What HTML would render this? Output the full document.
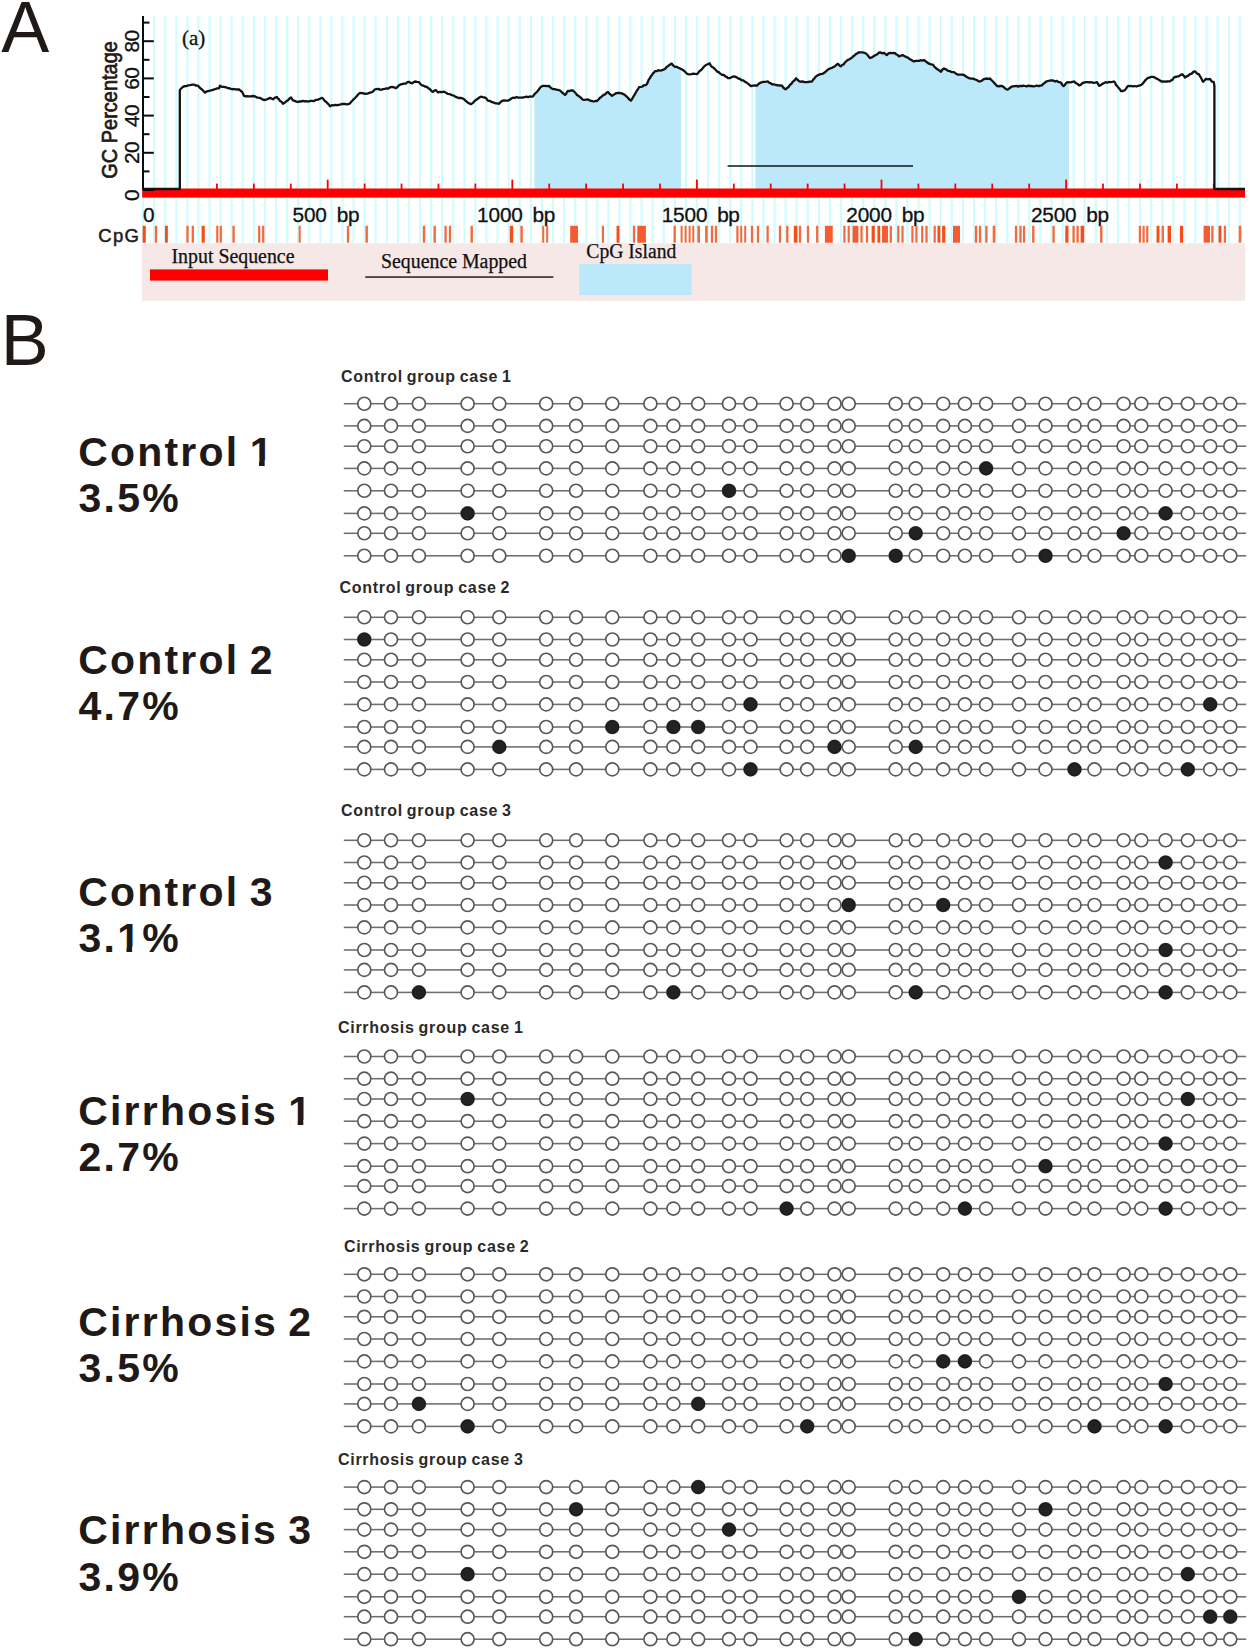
<!DOCTYPE html>
<html><head><meta charset="utf-8"><title>Figure</title>
<style>
html,body{margin:0;padding:0;background:#fff;}
body{width:1250px;height:1650px;overflow:hidden;font-family:"Liberation Sans",sans-serif;}
svg{display:block;}
</style></head><body>
<svg width="1250" height="1650" viewBox="0 0 1250 1650">
<rect width="1250" height="1650" fill="#fff"/>
<g id="panelA">
<g fill="#d0fcfd">
<rect x="141.97" y="16" width="2.2" height="227"/>
<rect x="153.05" y="16" width="2.2" height="227"/>
<rect x="164.13" y="16" width="2.2" height="227"/>
<rect x="175.21" y="16" width="2.2" height="227"/>
<rect x="186.28" y="16" width="2.2" height="227"/>
<rect x="197.36" y="16" width="2.2" height="227"/>
<rect x="208.44" y="16" width="2.2" height="227"/>
<rect x="219.52" y="16" width="2.2" height="227"/>
<rect x="230.60" y="16" width="2.2" height="227"/>
<rect x="241.67" y="16" width="2.2" height="227"/>
<rect x="252.75" y="16" width="2.2" height="227"/>
<rect x="263.83" y="16" width="2.2" height="227"/>
<rect x="274.91" y="16" width="2.2" height="227"/>
<rect x="285.99" y="16" width="2.2" height="227"/>
<rect x="297.06" y="16" width="2.2" height="227"/>
<rect x="308.14" y="16" width="2.2" height="227"/>
<rect x="319.22" y="16" width="2.2" height="227"/>
<rect x="330.30" y="16" width="2.2" height="227"/>
<rect x="341.38" y="16" width="2.2" height="227"/>
<rect x="352.45" y="16" width="2.2" height="227"/>
<rect x="363.53" y="16" width="2.2" height="227"/>
<rect x="374.61" y="16" width="2.2" height="227"/>
<rect x="385.69" y="16" width="2.2" height="227"/>
<rect x="396.77" y="16" width="2.2" height="227"/>
<rect x="407.84" y="16" width="2.2" height="227"/>
<rect x="418.92" y="16" width="2.2" height="227"/>
<rect x="430.00" y="16" width="2.2" height="227"/>
<rect x="441.08" y="16" width="2.2" height="227"/>
<rect x="452.16" y="16" width="2.2" height="227"/>
<rect x="463.23" y="16" width="2.2" height="227"/>
<rect x="474.31" y="16" width="2.2" height="227"/>
<rect x="485.39" y="16" width="2.2" height="227"/>
<rect x="496.47" y="16" width="2.2" height="227"/>
<rect x="507.55" y="16" width="2.2" height="227"/>
<rect x="518.62" y="16" width="2.2" height="227"/>
<rect x="529.70" y="16" width="2.2" height="227"/>
<rect x="540.78" y="16" width="2.2" height="227"/>
<rect x="551.86" y="16" width="2.2" height="227"/>
<rect x="562.94" y="16" width="2.2" height="227"/>
<rect x="574.01" y="16" width="2.2" height="227"/>
<rect x="585.09" y="16" width="2.2" height="227"/>
<rect x="596.17" y="16" width="2.2" height="227"/>
<rect x="607.25" y="16" width="2.2" height="227"/>
<rect x="618.33" y="16" width="2.2" height="227"/>
<rect x="629.40" y="16" width="2.2" height="227"/>
<rect x="640.48" y="16" width="2.2" height="227"/>
<rect x="651.56" y="16" width="2.2" height="227"/>
<rect x="662.64" y="16" width="2.2" height="227"/>
<rect x="673.72" y="16" width="2.2" height="227"/>
<rect x="684.79" y="16" width="2.2" height="227"/>
<rect x="695.87" y="16" width="2.2" height="227"/>
<rect x="706.95" y="16" width="2.2" height="227"/>
<rect x="718.03" y="16" width="2.2" height="227"/>
<rect x="729.11" y="16" width="2.2" height="227"/>
<rect x="740.18" y="16" width="2.2" height="227"/>
<rect x="751.26" y="16" width="2.2" height="227"/>
<rect x="762.34" y="16" width="2.2" height="227"/>
<rect x="773.42" y="16" width="2.2" height="227"/>
<rect x="784.50" y="16" width="2.2" height="227"/>
<rect x="795.57" y="16" width="2.2" height="227"/>
<rect x="806.65" y="16" width="2.2" height="227"/>
<rect x="817.73" y="16" width="2.2" height="227"/>
<rect x="828.81" y="16" width="2.2" height="227"/>
<rect x="839.89" y="16" width="2.2" height="227"/>
<rect x="850.96" y="16" width="2.2" height="227"/>
<rect x="862.04" y="16" width="2.2" height="227"/>
<rect x="873.12" y="16" width="2.2" height="227"/>
<rect x="884.20" y="16" width="2.2" height="227"/>
<rect x="895.28" y="16" width="2.2" height="227"/>
<rect x="906.35" y="16" width="2.2" height="227"/>
<rect x="917.43" y="16" width="2.2" height="227"/>
<rect x="928.51" y="16" width="2.2" height="227"/>
<rect x="939.59" y="16" width="2.2" height="227"/>
<rect x="950.67" y="16" width="2.2" height="227"/>
<rect x="961.74" y="16" width="2.2" height="227"/>
<rect x="972.82" y="16" width="2.2" height="227"/>
<rect x="983.90" y="16" width="2.2" height="227"/>
<rect x="994.98" y="16" width="2.2" height="227"/>
<rect x="1006.06" y="16" width="2.2" height="227"/>
<rect x="1017.13" y="16" width="2.2" height="227"/>
<rect x="1028.21" y="16" width="2.2" height="227"/>
<rect x="1039.29" y="16" width="2.2" height="227"/>
<rect x="1050.37" y="16" width="2.2" height="227"/>
<rect x="1061.45" y="16" width="2.2" height="227"/>
<rect x="1072.52" y="16" width="2.2" height="227"/>
<rect x="1083.60" y="16" width="2.2" height="227"/>
<rect x="1094.68" y="16" width="2.2" height="227"/>
<rect x="1105.76" y="16" width="2.2" height="227"/>
<rect x="1116.84" y="16" width="2.2" height="227"/>
<rect x="1127.91" y="16" width="2.2" height="227"/>
<rect x="1138.99" y="16" width="2.2" height="227"/>
<rect x="1150.07" y="16" width="2.2" height="227"/>
<rect x="1161.15" y="16" width="2.2" height="227"/>
<rect x="1172.23" y="16" width="2.2" height="227"/>
<rect x="1183.30" y="16" width="2.2" height="227"/>
<rect x="1194.38" y="16" width="2.2" height="227"/>
<rect x="1205.46" y="16" width="2.2" height="227"/>
<rect x="1216.54" y="16" width="2.2" height="227"/>
<rect x="1227.62" y="16" width="2.2" height="227"/>
<rect x="1238.69" y="16" width="2.2" height="227"/>
</g>
<clipPath id="uc"><polygon points="183.0,190.0 183.0,86.9 184.7,86.1 186.3,86.2 188.0,85.4 190.2,85.2 192.4,84.7 194.3,84.7 196.1,85.6 198.0,85.7 199.5,87.4 201.0,88.8 202.3,89.7 203.7,91.2 205.0,92.6 207.0,91.3 209.0,90.8 211.0,90.4 213.0,89.8 215.0,89.2 217.0,88.4 219.0,88.3 220.0,85.8 222.0,86.9 224.0,86.9 226.0,87.3 228.0,88.2 230.0,88.5 232.0,89.3 234.0,89.0 235.7,89.4 237.3,89.5 239.0,89.3 240.5,90.8 242.0,91.8 243.0,93.5 244.0,95.8 245.7,96.3 247.3,96.2 249.0,96.3 251.0,96.3 253.0,96.0 254.8,96.3 256.5,97.3 258.2,97.7 260.0,97.9 262.0,99.1 264.0,100.0 266.0,99.7 268.0,98.9 270.0,97.9 273.0,99.3 275.0,97.6 277.0,97.0 278.0,98.6 279.0,99.3 280.0,101.0 281.5,101.8 283.0,103.7 284.7,102.7 286.3,101.3 288.0,100.2 289.5,98.5 291.0,97.5 292.0,99.0 293.0,100.4 294.7,100.8 296.3,101.6 298.0,101.8 299.6,101.5 301.2,101.5 302.8,100.8 304.4,101.3 306.0,101.1 307.6,101.5 309.2,101.4 310.8,100.8 312.4,100.9 314.0,101.1 316.0,99.8 318.0,99.6 320.0,98.8 322.0,97.8 323.3,98.8 324.7,101.0 326.0,101.8 327.3,103.1 328.7,104.5 330.0,106.2 331.7,105.2 333.3,105.3 335.0,105.0 336.7,105.2 338.3,105.0 340.0,104.6 341.7,104.0 343.3,104.0 345.0,103.8 346.7,104.3 348.3,104.2 350.0,103.4 351.2,101.8 352.5,100.5 353.8,99.1 355.0,98.0 356.2,96.8 357.5,95.2 358.8,93.7 360.0,93.0 362.0,93.1 364.0,93.5 366.0,93.8 368.0,93.3 370.0,92.6 372.0,92.1 373.3,91.2 374.7,89.5 376.0,89.2 379.0,88.8 380.0,89.8 381.6,89.7 383.2,89.1 384.8,88.9 386.4,88.4 388.0,88.7 390.0,87.3 392.0,86.8 394.0,87.4 396.0,88.2 397.3,87.1 398.7,85.6 400.0,84.7 402.0,84.1 404.0,83.6 406.0,83.5 407.5,82.1 409.0,81.8 410.5,82.7 412.0,83.4 413.5,82.3 415.0,81.5 417.0,81.9 419.0,82.2 420.5,84.1 422.0,85.3 423.5,85.7 425.0,86.5 426.5,86.8 428.0,87.8 429.2,88.8 430.5,89.7 431.8,91.4 433.0,91.8 434.5,90.5 436.0,90.2 438.0,92.4 440.0,91.9 442.0,92.2 444.0,91.7 446.0,92.7 448.0,93.9 450.0,94.2 451.8,95.1 453.5,95.5 455.2,96.6 457.0,97.4 458.7,98.0 460.3,97.9 462.0,98.2 463.3,98.8 464.7,99.7 466.0,101.2 467.7,102.5 469.3,103.4 471.0,104.2 472.2,103.4 473.5,102.3 474.8,100.7 476.0,100.0 477.7,98.8 479.3,97.5 481.0,96.7 482.7,97.1 484.3,97.4 486.0,98.1 488.0,100.7 490.0,101.0 492.0,102.2 494.0,102.7 495.7,103.4 497.3,103.3 499.0,103.8 500.5,102.2 502.0,100.8 504.0,100.5 506.0,100.7 508.0,100.6 509.7,99.8 511.3,98.5 513.0,97.7 514.8,97.9 516.5,97.0 518.2,97.6 520.0,97.6 521.6,97.6 523.2,97.5 524.8,97.1 526.4,96.7 528.0,97.2 529.7,96.5 531.3,96.7 533.0,96.3 534.3,94.4 535.7,93.0 537.0,91.8 538.3,90.3 539.7,88.2 541.0,86.8 543.0,85.9 545.0,85.8 547.0,86.1 549.0,85.8 550.3,87.4 551.7,88.5 553.0,89.1 554.7,89.2 556.3,89.7 558.0,89.8 560.0,90.5 562.0,92.3 563.5,93.7 565.0,95.0 566.0,94.0 567.0,92.0 568.0,90.8 569.7,91.0 571.3,90.3 573.0,90.5 574.3,91.8 575.7,93.2 577.0,95.0 578.3,95.7 579.7,96.9 581.0,97.8 582.5,99.5 584.0,99.9 586.0,99.7 588.0,99.4 590.0,100.6 592.0,101.0 593.7,101.5 595.3,101.0 597.0,101.0 598.5,99.5 600.0,97.7 601.3,96.9 602.7,95.7 604.0,94.7 605.3,94.3 606.7,92.6 608.0,92.0 609.3,93.6 610.7,94.7 612.0,95.9 613.3,95.0 614.7,94.1 616.0,93.2 619.0,92.8 620.0,93.0 621.7,93.4 623.3,94.1 625.0,95.1 626.2,96.1 627.4,97.3 628.6,98.6 629.8,99.9 631.0,100.6 632.0,99.1 633.0,97.3 634.0,95.7 635.0,94.1 635.8,92.5 636.6,91.2 637.4,89.8 638.2,88.9 639.0,87.1 640.8,86.9 642.5,86.5 644.2,85.2 646.0,85.0 646.8,84.1 647.6,82.6 648.4,80.4 649.2,79.0 650.0,78.0 651.0,76.1 652.0,74.9 653.0,73.3 654.0,72.6 655.0,71.2 656.6,71.2 658.2,70.2 659.8,70.6 661.4,70.4 663.0,69.8 664.2,69.4 665.5,68.5 666.8,66.7 668.0,66.2 669.8,64.7 671.6,63.6 673.3,65.6 675.0,66.8 676.7,66.8 678.3,67.7 680.0,68.4 682.0,69.5 684.0,70.8 685.3,71.9 686.7,73.5 688.0,74.1 689.8,74.4 691.6,74.2 693.4,73.6 695.2,73.9 697.0,74.1 698.3,72.7 699.7,70.9 701.0,70.3 702.5,68.5 704.0,66.7 705.9,65.0 707.7,64.3 709.6,63.3 710.8,65.6 712.0,66.9 713.3,67.6 714.7,68.9 716.0,70.2 717.3,71.6 718.7,72.1 720.0,73.4 722.0,74.8 724.0,75.0 725.3,76.4 726.7,76.8 728.0,78.2 729.8,78.1 731.5,77.3 733.2,76.4 735.0,76.6 736.7,77.4 738.3,78.5 740.0,78.8 741.7,80.3 743.3,80.3 745.0,81.8 746.5,82.6 748.0,83.6 749.5,85.0 751.0,86.2 753.0,85.6 755.0,85.3 757.0,85.6 758.5,84.0 760.0,82.8 761.6,82.3 763.2,81.9 764.8,81.8 766.4,81.7 768.0,81.5 769.3,82.8 770.7,83.2 772.0,84.4 774.0,84.4 776.0,85.0 778.0,85.3 780.0,85.5 782.0,85.7 783.2,87.5 784.4,88.5 785.6,89.4 787.1,88.0 788.5,87.0 790.0,84.8 791.2,84.0 792.4,82.3 793.6,81.0 794.8,80.1 796.0,78.3 797.5,79.7 799.0,81.1 800.8,81.8 802.5,81.3 804.2,82.1 806.0,82.1 808.0,82.0 810.0,81.6 812.0,81.5 813.2,79.6 814.5,78.2 815.8,76.6 817.0,75.7 818.7,74.8 820.3,74.2 822.0,73.8 823.5,73.3 825.0,72.2 826.5,70.9 828.0,69.5 829.5,68.7 831.0,68.1 832.5,67.6 834.0,66.8 835.3,65.8 836.7,64.5 838.0,63.9 839.5,65.5 841.0,66.4 842.2,64.9 843.5,64.5 844.8,62.6 846.0,61.5 847.5,60.1 849.0,59.5 850.5,58.6 852.0,57.6 853.2,56.3 854.5,55.6 855.8,54.1 857.0,53.5 858.5,52.5 860.0,52.3 862.0,52.3 864.0,52.7 866.0,53.5 867.3,54.8 868.7,56.6 870.0,58.0 872.0,57.3 874.0,56.1 875.7,55.1 877.3,54.2 879.0,52.5 880.7,52.5 882.3,53.4 884.0,52.8 885.5,54.2 887.0,55.1 888.5,53.3 890.0,52.8 891.7,53.2 893.3,53.0 895.0,53.1 896.3,54.5 897.7,54.9 899.0,56.4 901.0,55.7 903.0,55.2 904.7,56.2 906.3,57.1 908.0,57.6 909.5,59.0 911.0,59.8 912.5,60.8 914.0,61.5 915.7,60.9 917.3,60.8 919.0,60.9 920.7,60.2 922.3,60.7 924.0,60.0 925.7,61.3 927.3,62.5 929.0,63.7 931.0,64.3 933.0,64.7 934.3,66.7 935.7,67.9 937.0,69.0 939.0,70.3 941.0,71.7 942.5,69.5 944.0,68.5 946.0,69.4 948.0,70.8 950.0,71.2 952.0,72.2 954.0,72.2 956.0,73.7 958.0,74.7 960.0,74.6 962.0,74.7 964.0,75.0 965.7,76.2 967.3,77.3 969.0,78.1 971.0,78.7 973.0,78.6 975.0,79.4 976.7,80.0 978.3,81.2 980.0,81.5 981.7,80.8 983.3,79.3 985.0,78.8 986.7,78.5 988.3,78.8 990.0,78.5 991.5,80.2 993.0,81.5 994.3,83.1 995.7,84.5 997.0,86.0 999.0,86.4 1000.0,85.8 1002.0,86.0 1004.0,87.3 1005.8,89.0 1007.6,89.7 1008.7,88.8 1009.9,88.1 1011.0,86.9 1012.8,86.4 1014.6,86.1 1016.4,85.9 1018.2,86.6 1020.0,85.8 1021.7,86.1 1023.3,85.6 1025.0,86.0 1026.7,86.5 1028.3,85.6 1030.0,86.2 1031.7,86.0 1033.4,86.3 1035.1,86.1 1036.9,85.5 1038.6,86.2 1040.3,85.6 1042.0,85.3 1043.3,83.7 1044.7,82.9 1046.0,81.6 1048.0,81.0 1050.0,80.5 1052.0,80.5 1053.6,80.7 1055.2,81.5 1056.8,80.9 1058.4,82.0 1060.0,82.2 1061.2,82.9 1062.4,85.1 1063.6,86.1 1064.7,85.2 1065.9,83.4 1067.0,82.3 1068.8,82.1 1070.5,82.5 1072.2,81.9 1074.0,81.5 1075.2,82.5 1076.5,83.4 1077.8,84.1 1079.0,85.4 1080.7,84.9 1082.3,83.2 1084.0,82.6 1085.6,82.1 1087.2,82.1 1088.8,82.4 1090.4,82.1 1092.0,82.3 1093.7,82.8 1095.3,82.6 1097.0,82.2 1098.0,83.9 1099.0,85.8 1100.7,85.2 1102.3,83.9 1104.0,83.1 1105.7,82.2 1107.3,82.6 1109.0,82.0 1110.7,82.1 1112.3,81.9 1114.0,81.5 1115.0,82.6 1116.0,85.0 1117.0,85.8 1118.0,87.2 1119.0,88.3 1120.0,89.5 1121.0,91.1 1123.0,91.0 1125.0,89.9 1126.0,88.8 1127.0,87.1 1128.0,86.0 1129.7,86.1 1131.3,86.0 1133.0,86.4 1134.8,86.0 1136.5,86.5 1138.2,85.8 1140.0,85.4 1141.5,84.7 1143.0,83.3 1144.2,81.7 1145.5,80.1 1146.8,78.9 1148.0,77.8 1149.7,77.5 1151.3,76.9 1153.0,76.9 1154.7,77.4 1156.3,78.4 1158.0,79.2 1160.0,80.6 1162.0,81.6 1163.6,81.5 1165.2,81.6 1166.8,81.5 1168.4,81.4 1170.0,81.4 1171.2,80.2 1172.5,79.8 1173.8,77.7 1175.0,77.0 1177.0,76.6 1179.0,76.2 1180.7,74.9 1182.4,74.3 1183.7,75.7 1185.0,77.5 1186.7,76.3 1188.3,75.7 1190.0,74.2 1191.7,73.6 1193.3,71.9 1195.0,71.3 1196.3,72.8 1197.7,73.9 1199.0,74.4 1200.0,76.3 1201.0,77.7 1202.0,79.7 1203.0,81.8 1204.5,80.5 1206.0,78.8 1208.0,79.3 1210.0,78.9 1211.6,81.4 1213.8,82.2 1213.8,190.0"/></clipPath>
<g clip-path="url(#uc)" fill="#bce9f9">
<rect x="534.4" y="10" width="146.6" height="185"/>
<rect x="755.4" y="10" width="313.6" height="185"/>
</g>
<rect x="727.6" y="165.2" width="185.4" height="1.6" fill="#222"/>
<rect x="142.2" y="188.5" width="1102.8" height="9.1" fill="#fe0000"/>
<g fill="#fe0000">
<rect x="179.12" y="183.6" width="1.8" height="6.4"/>
<rect x="216.04" y="183.6" width="1.8" height="6.4"/>
<rect x="252.96" y="183.6" width="1.8" height="6.4"/>
<rect x="289.88" y="183.6" width="1.8" height="6.4"/>
<rect x="326.80" y="179.6" width="1.8" height="10.4"/>
<rect x="363.72" y="183.6" width="1.8" height="6.4"/>
<rect x="400.64" y="183.6" width="1.8" height="6.4"/>
<rect x="437.56" y="183.6" width="1.8" height="6.4"/>
<rect x="474.48" y="183.6" width="1.8" height="6.4"/>
<rect x="511.40" y="179.6" width="1.8" height="10.4"/>
<rect x="548.32" y="183.6" width="1.8" height="6.4"/>
<rect x="585.24" y="183.6" width="1.8" height="6.4"/>
<rect x="622.16" y="183.6" width="1.8" height="6.4"/>
<rect x="659.08" y="183.6" width="1.8" height="6.4"/>
<rect x="696.00" y="179.6" width="1.8" height="10.4"/>
<rect x="732.92" y="183.6" width="1.8" height="6.4"/>
<rect x="769.84" y="183.6" width="1.8" height="6.4"/>
<rect x="806.76" y="183.6" width="1.8" height="6.4"/>
<rect x="843.68" y="183.6" width="1.8" height="6.4"/>
<rect x="880.60" y="179.6" width="1.8" height="10.4"/>
<rect x="917.52" y="183.6" width="1.8" height="6.4"/>
<rect x="954.44" y="183.6" width="1.8" height="6.4"/>
<rect x="991.36" y="183.6" width="1.8" height="6.4"/>
<rect x="1028.28" y="183.6" width="1.8" height="6.4"/>
<rect x="1065.20" y="179.6" width="1.8" height="10.4"/>
<rect x="1102.12" y="183.6" width="1.8" height="6.4"/>
<rect x="1139.04" y="183.6" width="1.8" height="6.4"/>
<rect x="1175.96" y="183.6" width="1.8" height="6.4"/>
<rect x="1212.88" y="183.6" width="1.8" height="6.4"/>
</g>
<polyline points="142.2,189.0 179.8,189.0 179.8,182.0 179.8,90.4 180.6,89.0 183.0,86.9 184.7,86.1 186.3,86.2 188.0,85.4 190.2,85.2 192.4,84.7 194.3,84.7 196.1,85.6 198.0,85.7 199.5,87.4 201.0,88.8 202.3,89.7 203.7,91.2 205.0,92.6 207.0,91.3 209.0,90.8 211.0,90.4 213.0,89.8 215.0,89.2 217.0,88.4 219.0,88.3 220.0,85.8 222.0,86.9 224.0,86.9 226.0,87.3 228.0,88.2 230.0,88.5 232.0,89.3 234.0,89.0 235.7,89.4 237.3,89.5 239.0,89.3 240.5,90.8 242.0,91.8 243.0,93.5 244.0,95.8 245.7,96.3 247.3,96.2 249.0,96.3 251.0,96.3 253.0,96.0 254.8,96.3 256.5,97.3 258.2,97.7 260.0,97.9 262.0,99.1 264.0,100.0 266.0,99.7 268.0,98.9 270.0,97.9 273.0,99.3 275.0,97.6 277.0,97.0 278.0,98.6 279.0,99.3 280.0,101.0 281.5,101.8 283.0,103.7 284.7,102.7 286.3,101.3 288.0,100.2 289.5,98.5 291.0,97.5 292.0,99.0 293.0,100.4 294.7,100.8 296.3,101.6 298.0,101.8 299.6,101.5 301.2,101.5 302.8,100.8 304.4,101.3 306.0,101.1 307.6,101.5 309.2,101.4 310.8,100.8 312.4,100.9 314.0,101.1 316.0,99.8 318.0,99.6 320.0,98.8 322.0,97.8 323.3,98.8 324.7,101.0 326.0,101.8 327.3,103.1 328.7,104.5 330.0,106.2 331.7,105.2 333.3,105.3 335.0,105.0 336.7,105.2 338.3,105.0 340.0,104.6 341.7,104.0 343.3,104.0 345.0,103.8 346.7,104.3 348.3,104.2 350.0,103.4 351.2,101.8 352.5,100.5 353.8,99.1 355.0,98.0 356.2,96.8 357.5,95.2 358.8,93.7 360.0,93.0 362.0,93.1 364.0,93.5 366.0,93.8 368.0,93.3 370.0,92.6 372.0,92.1 373.3,91.2 374.7,89.5 376.0,89.2 379.0,88.8 380.0,89.8 381.6,89.7 383.2,89.1 384.8,88.9 386.4,88.4 388.0,88.7 390.0,87.3 392.0,86.8 394.0,87.4 396.0,88.2 397.3,87.1 398.7,85.6 400.0,84.7 402.0,84.1 404.0,83.6 406.0,83.5 407.5,82.1 409.0,81.8 410.5,82.7 412.0,83.4 413.5,82.3 415.0,81.5 417.0,81.9 419.0,82.2 420.5,84.1 422.0,85.3 423.5,85.7 425.0,86.5 426.5,86.8 428.0,87.8 429.2,88.8 430.5,89.7 431.8,91.4 433.0,91.8 434.5,90.5 436.0,90.2 438.0,92.4 440.0,91.9 442.0,92.2 444.0,91.7 446.0,92.7 448.0,93.9 450.0,94.2 451.8,95.1 453.5,95.5 455.2,96.6 457.0,97.4 458.7,98.0 460.3,97.9 462.0,98.2 463.3,98.8 464.7,99.7 466.0,101.2 467.7,102.5 469.3,103.4 471.0,104.2 472.2,103.4 473.5,102.3 474.8,100.7 476.0,100.0 477.7,98.8 479.3,97.5 481.0,96.7 482.7,97.1 484.3,97.4 486.0,98.1 488.0,100.7 490.0,101.0 492.0,102.2 494.0,102.7 495.7,103.4 497.3,103.3 499.0,103.8 500.5,102.2 502.0,100.8 504.0,100.5 506.0,100.7 508.0,100.6 509.7,99.8 511.3,98.5 513.0,97.7 514.8,97.9 516.5,97.0 518.2,97.6 520.0,97.6 521.6,97.6 523.2,97.5 524.8,97.1 526.4,96.7 528.0,97.2 529.7,96.5 531.3,96.7 533.0,96.3 534.3,94.4 535.7,93.0 537.0,91.8 538.3,90.3 539.7,88.2 541.0,86.8 543.0,85.9 545.0,85.8 547.0,86.1 549.0,85.8 550.3,87.4 551.7,88.5 553.0,89.1 554.7,89.2 556.3,89.7 558.0,89.8 560.0,90.5 562.0,92.3 563.5,93.7 565.0,95.0 566.0,94.0 567.0,92.0 568.0,90.8 569.7,91.0 571.3,90.3 573.0,90.5 574.3,91.8 575.7,93.2 577.0,95.0 578.3,95.7 579.7,96.9 581.0,97.8 582.5,99.5 584.0,99.9 586.0,99.7 588.0,99.4 590.0,100.6 592.0,101.0 593.7,101.5 595.3,101.0 597.0,101.0 598.5,99.5 600.0,97.7 601.3,96.9 602.7,95.7 604.0,94.7 605.3,94.3 606.7,92.6 608.0,92.0 609.3,93.6 610.7,94.7 612.0,95.9 613.3,95.0 614.7,94.1 616.0,93.2 619.0,92.8 620.0,93.0 621.7,93.4 623.3,94.1 625.0,95.1 626.2,96.1 627.4,97.3 628.6,98.6 629.8,99.9 631.0,100.6 632.0,99.1 633.0,97.3 634.0,95.7 635.0,94.1 635.8,92.5 636.6,91.2 637.4,89.8 638.2,88.9 639.0,87.1 640.8,86.9 642.5,86.5 644.2,85.2 646.0,85.0 646.8,84.1 647.6,82.6 648.4,80.4 649.2,79.0 650.0,78.0 651.0,76.1 652.0,74.9 653.0,73.3 654.0,72.6 655.0,71.2 656.6,71.2 658.2,70.2 659.8,70.6 661.4,70.4 663.0,69.8 664.2,69.4 665.5,68.5 666.8,66.7 668.0,66.2 669.8,64.7 671.6,63.6 673.3,65.6 675.0,66.8 676.7,66.8 678.3,67.7 680.0,68.4 682.0,69.5 684.0,70.8 685.3,71.9 686.7,73.5 688.0,74.1 689.8,74.4 691.6,74.2 693.4,73.6 695.2,73.9 697.0,74.1 698.3,72.7 699.7,70.9 701.0,70.3 702.5,68.5 704.0,66.7 705.9,65.0 707.7,64.3 709.6,63.3 710.8,65.6 712.0,66.9 713.3,67.6 714.7,68.9 716.0,70.2 717.3,71.6 718.7,72.1 720.0,73.4 722.0,74.8 724.0,75.0 725.3,76.4 726.7,76.8 728.0,78.2 729.8,78.1 731.5,77.3 733.2,76.4 735.0,76.6 736.7,77.4 738.3,78.5 740.0,78.8 741.7,80.3 743.3,80.3 745.0,81.8 746.5,82.6 748.0,83.6 749.5,85.0 751.0,86.2 753.0,85.6 755.0,85.3 757.0,85.6 758.5,84.0 760.0,82.8 761.6,82.3 763.2,81.9 764.8,81.8 766.4,81.7 768.0,81.5 769.3,82.8 770.7,83.2 772.0,84.4 774.0,84.4 776.0,85.0 778.0,85.3 780.0,85.5 782.0,85.7 783.2,87.5 784.4,88.5 785.6,89.4 787.1,88.0 788.5,87.0 790.0,84.8 791.2,84.0 792.4,82.3 793.6,81.0 794.8,80.1 796.0,78.3 797.5,79.7 799.0,81.1 800.8,81.8 802.5,81.3 804.2,82.1 806.0,82.1 808.0,82.0 810.0,81.6 812.0,81.5 813.2,79.6 814.5,78.2 815.8,76.6 817.0,75.7 818.7,74.8 820.3,74.2 822.0,73.8 823.5,73.3 825.0,72.2 826.5,70.9 828.0,69.5 829.5,68.7 831.0,68.1 832.5,67.6 834.0,66.8 835.3,65.8 836.7,64.5 838.0,63.9 839.5,65.5 841.0,66.4 842.2,64.9 843.5,64.5 844.8,62.6 846.0,61.5 847.5,60.1 849.0,59.5 850.5,58.6 852.0,57.6 853.2,56.3 854.5,55.6 855.8,54.1 857.0,53.5 858.5,52.5 860.0,52.3 862.0,52.3 864.0,52.7 866.0,53.5 867.3,54.8 868.7,56.6 870.0,58.0 872.0,57.3 874.0,56.1 875.7,55.1 877.3,54.2 879.0,52.5 880.7,52.5 882.3,53.4 884.0,52.8 885.5,54.2 887.0,55.1 888.5,53.3 890.0,52.8 891.7,53.2 893.3,53.0 895.0,53.1 896.3,54.5 897.7,54.9 899.0,56.4 901.0,55.7 903.0,55.2 904.7,56.2 906.3,57.1 908.0,57.6 909.5,59.0 911.0,59.8 912.5,60.8 914.0,61.5 915.7,60.9 917.3,60.8 919.0,60.9 920.7,60.2 922.3,60.7 924.0,60.0 925.7,61.3 927.3,62.5 929.0,63.7 931.0,64.3 933.0,64.7 934.3,66.7 935.7,67.9 937.0,69.0 939.0,70.3 941.0,71.7 942.5,69.5 944.0,68.5 946.0,69.4 948.0,70.8 950.0,71.2 952.0,72.2 954.0,72.2 956.0,73.7 958.0,74.7 960.0,74.6 962.0,74.7 964.0,75.0 965.7,76.2 967.3,77.3 969.0,78.1 971.0,78.7 973.0,78.6 975.0,79.4 976.7,80.0 978.3,81.2 980.0,81.5 981.7,80.8 983.3,79.3 985.0,78.8 986.7,78.5 988.3,78.8 990.0,78.5 991.5,80.2 993.0,81.5 994.3,83.1 995.7,84.5 997.0,86.0 999.0,86.4 1000.0,85.8 1002.0,86.0 1004.0,87.3 1005.8,89.0 1007.6,89.7 1008.7,88.8 1009.9,88.1 1011.0,86.9 1012.8,86.4 1014.6,86.1 1016.4,85.9 1018.2,86.6 1020.0,85.8 1021.7,86.1 1023.3,85.6 1025.0,86.0 1026.7,86.5 1028.3,85.6 1030.0,86.2 1031.7,86.0 1033.4,86.3 1035.1,86.1 1036.9,85.5 1038.6,86.2 1040.3,85.6 1042.0,85.3 1043.3,83.7 1044.7,82.9 1046.0,81.6 1048.0,81.0 1050.0,80.5 1052.0,80.5 1053.6,80.7 1055.2,81.5 1056.8,80.9 1058.4,82.0 1060.0,82.2 1061.2,82.9 1062.4,85.1 1063.6,86.1 1064.7,85.2 1065.9,83.4 1067.0,82.3 1068.8,82.1 1070.5,82.5 1072.2,81.9 1074.0,81.5 1075.2,82.5 1076.5,83.4 1077.8,84.1 1079.0,85.4 1080.7,84.9 1082.3,83.2 1084.0,82.6 1085.6,82.1 1087.2,82.1 1088.8,82.4 1090.4,82.1 1092.0,82.3 1093.7,82.8 1095.3,82.6 1097.0,82.2 1098.0,83.9 1099.0,85.8 1100.7,85.2 1102.3,83.9 1104.0,83.1 1105.7,82.2 1107.3,82.6 1109.0,82.0 1110.7,82.1 1112.3,81.9 1114.0,81.5 1115.0,82.6 1116.0,85.0 1117.0,85.8 1118.0,87.2 1119.0,88.3 1120.0,89.5 1121.0,91.1 1123.0,91.0 1125.0,89.9 1126.0,88.8 1127.0,87.1 1128.0,86.0 1129.7,86.1 1131.3,86.0 1133.0,86.4 1134.8,86.0 1136.5,86.5 1138.2,85.8 1140.0,85.4 1141.5,84.7 1143.0,83.3 1144.2,81.7 1145.5,80.1 1146.8,78.9 1148.0,77.8 1149.7,77.5 1151.3,76.9 1153.0,76.9 1154.7,77.4 1156.3,78.4 1158.0,79.2 1160.0,80.6 1162.0,81.6 1163.6,81.5 1165.2,81.6 1166.8,81.5 1168.4,81.4 1170.0,81.4 1171.2,80.2 1172.5,79.8 1173.8,77.7 1175.0,77.0 1177.0,76.6 1179.0,76.2 1180.7,74.9 1182.4,74.3 1183.7,75.7 1185.0,77.5 1186.7,76.3 1188.3,75.7 1190.0,74.2 1191.7,73.6 1193.3,71.9 1195.0,71.3 1196.3,72.8 1197.7,73.9 1199.0,74.4 1200.0,76.3 1201.0,77.7 1202.0,79.7 1203.0,81.8 1204.5,80.5 1206.0,78.8 1208.0,79.3 1210.0,78.9 1211.6,81.4 1213.8,82.2 1214.4,86.0 1214.4,189.0 1245.0,189.0" fill="none" stroke="#141212" stroke-width="2.3" stroke-linejoin="round"/>
<rect x="142.0" y="16" width="2.0" height="174" fill="#0c0c0c"/>
<g fill="#0c0c0c">
<rect x="143" y="189.00" width="10.8" height="2.0"/>
<rect x="143" y="170.40" width="6.5" height="2.0"/>
<rect x="143" y="151.80" width="10.8" height="2.0"/>
<rect x="143" y="133.20" width="6.5" height="2.0"/>
<rect x="143" y="114.60" width="10.8" height="2.0"/>
<rect x="143" y="96.00" width="6.5" height="2.0"/>
<rect x="143" y="77.40" width="10.8" height="2.0"/>
<rect x="143" y="58.80" width="6.5" height="2.0"/>
<rect x="143" y="40.20" width="10.8" height="2.0"/>
<rect x="143" y="21.60" width="6.5" height="2.0"/>
</g>
<g font-family='"Liberation Sans", sans-serif' font-size="20" fill="#111" stroke="#111" stroke-width="0.3" text-anchor="middle">
<g transform="translate(138.9,195.2) rotate(-90)">
<text transform="translate(0.00,0) scale(1.04,1)">0</text>
</g>
<g transform="translate(138.9,152.8) rotate(-90)">
<text transform="translate(-5.50,0) scale(1.04,1)">2</text>
<text transform="translate(5.50,0) scale(1.04,1)">0</text>
</g>
<g transform="translate(138.9,115.6) rotate(-90)">
<text transform="translate(-5.50,0) scale(1.04,1)">4</text>
<text transform="translate(5.50,0) scale(1.04,1)">0</text>
</g>
<g transform="translate(138.9,78.4) rotate(-90)">
<text transform="translate(-5.50,0) scale(1.04,1)">6</text>
<text transform="translate(5.50,0) scale(1.04,1)">0</text>
</g>
<g transform="translate(138.9,41.2) rotate(-90)">
<text transform="translate(-5.50,0) scale(1.04,1)">8</text>
<text transform="translate(5.50,0) scale(1.04,1)">0</text>
</g>
</g>
<text transform="translate(117.3,178.7) rotate(-90)" font-family='"Liberation Sans", sans-serif' font-size="21.5" fill="#1f1a17" stroke="#1f1a17" stroke-width="0.7" textLength="137.6" lengthAdjust="spacingAndGlyphs">GC Percentage</text>
<text x="181.9" y="45.0" font-family='"Liberation Serif", serif' font-size="21" fill="#111" stroke="#111" stroke-width="0.3">(a)</text>
<g font-family='"Liberation Sans", sans-serif' font-size="20" fill="#111" stroke="#111" stroke-width="0.3" text-anchor="middle">
<text transform="translate(148.8,221.8) scale(1.04,1)">0</text>
<text transform="translate(298.30,221.8) scale(1.04,1)">5</text>
<text transform="translate(309.70,221.8) scale(1.04,1)">0</text>
<text transform="translate(321.10,221.8) scale(1.04,1)">0</text>
<text transform="translate(342.60,221.8) scale(1.04,1)">b</text>
<text transform="translate(353.75,221.8) scale(1.04,1)">p</text>
<text transform="translate(482.90,221.8) scale(1.04,1)">1</text>
<text transform="translate(494.30,221.8) scale(1.04,1)">0</text>
<text transform="translate(505.70,221.8) scale(1.04,1)">0</text>
<text transform="translate(517.10,221.8) scale(1.04,1)">0</text>
<text transform="translate(538.35,221.8) scale(1.04,1)">b</text>
<text transform="translate(549.50,221.8) scale(1.04,1)">p</text>
<text transform="translate(667.50,221.8) scale(1.04,1)">1</text>
<text transform="translate(678.90,221.8) scale(1.04,1)">5</text>
<text transform="translate(690.30,221.8) scale(1.04,1)">0</text>
<text transform="translate(701.70,221.8) scale(1.04,1)">0</text>
<text transform="translate(722.95,221.8) scale(1.04,1)">b</text>
<text transform="translate(734.10,221.8) scale(1.04,1)">p</text>
<text transform="translate(852.10,221.8) scale(1.04,1)">2</text>
<text transform="translate(863.50,221.8) scale(1.04,1)">0</text>
<text transform="translate(874.90,221.8) scale(1.04,1)">0</text>
<text transform="translate(886.30,221.8) scale(1.04,1)">0</text>
<text transform="translate(907.55,221.8) scale(1.04,1)">b</text>
<text transform="translate(918.70,221.8) scale(1.04,1)">p</text>
<text transform="translate(1036.70,221.8) scale(1.04,1)">2</text>
<text transform="translate(1048.10,221.8) scale(1.04,1)">5</text>
<text transform="translate(1059.50,221.8) scale(1.04,1)">0</text>
<text transform="translate(1070.90,221.8) scale(1.04,1)">0</text>
<text transform="translate(1092.15,221.8) scale(1.04,1)">b</text>
<text transform="translate(1103.30,221.8) scale(1.04,1)">p</text>
</g>
<text x="98.3" y="242.2" font-family='"Liberation Sans", sans-serif' font-size="18.5" letter-spacing="1.3" fill="#1f1a17" stroke="#1f1a17" stroke-width="0.5">CpG</text>
<g>
<rect x="142.60" y="225.8" width="3.20" height="16.9" fill="#f74e18"/>
<rect x="154.85" y="225.8" width="2.30" height="16.9" fill="#f4693d"/>
<rect x="164.95" y="225.8" width="2.90" height="16.9" fill="#f74e18"/>
<rect x="186.35" y="225.8" width="2.30" height="16.9" fill="#f4693d"/>
<rect x="191.65" y="225.8" width="2.30" height="16.9" fill="#f4693d"/>
<rect x="201.60" y="225.8" width="3.20" height="16.9" fill="#f74e18"/>
<rect x="216.20" y="225.8" width="2.20" height="16.9" fill="#f4693d"/>
<rect x="219.70" y="225.8" width="2.20" height="16.9" fill="#f4693d"/>
<rect x="232.45" y="225.8" width="2.30" height="16.9" fill="#f4693d"/>
<rect x="258.10" y="225.8" width="2.20" height="16.9" fill="#f4693d"/>
<rect x="262.10" y="225.8" width="2.20" height="16.9" fill="#f4693d"/>
<rect x="298.70" y="225.8" width="2.00" height="16.9" fill="#f4693d"/>
<rect x="346.85" y="225.8" width="2.30" height="16.9" fill="#f4693d"/>
<rect x="365.50" y="225.8" width="2.40" height="16.9" fill="#f4693d"/>
<rect x="422.80" y="225.8" width="2.40" height="16.9" fill="#f4693d"/>
<rect x="433.50" y="225.8" width="2.40" height="16.9" fill="#f4693d"/>
<rect x="444.45" y="225.8" width="2.30" height="16.9" fill="#f4693d"/>
<rect x="448.85" y="225.8" width="2.30" height="16.9" fill="#f4693d"/>
<rect x="470.50" y="225.8" width="2.40" height="16.9" fill="#f4693d"/>
<rect x="509.80" y="225.8" width="3.40" height="16.9" fill="#f74e18"/>
<rect x="520.40" y="225.8" width="2.40" height="16.9" fill="#f4693d"/>
<rect x="542.20" y="225.8" width="2.00" height="16.9" fill="#f4693d"/>
<rect x="546.20" y="225.8" width="2.00" height="16.9" fill="#f4693d"/>
<rect x="570.20" y="225.8" width="7.80" height="16.9" fill="#f55a30"/>
<rect x="601.80" y="225.8" width="2.20" height="16.9" fill="#f4693d"/>
<rect x="616.55" y="225.8" width="2.90" height="16.9" fill="#f74e18"/>
<rect x="632.85" y="225.8" width="2.30" height="16.9" fill="#f4693d"/>
<rect x="637.30" y="225.8" width="8.60" height="16.9" fill="#f55a30"/>
<rect x="673.55" y="225.8" width="2.30" height="16.9" fill="#f4693d"/>
<rect x="680.60" y="225.8" width="2.00" height="16.9" fill="#f4693d"/>
<rect x="684.60" y="225.8" width="2.00" height="16.9" fill="#f4693d"/>
<rect x="688.60" y="225.8" width="2.00" height="16.9" fill="#f4693d"/>
<rect x="692.30" y="225.8" width="2.00" height="16.9" fill="#f4693d"/>
<rect x="697.40" y="225.8" width="2.60" height="16.9" fill="#f4693d"/>
<rect x="705.10" y="225.8" width="2.60" height="16.9" fill="#f4693d"/>
<rect x="710.85" y="225.8" width="2.30" height="16.9" fill="#f4693d"/>
<rect x="714.85" y="225.8" width="2.30" height="16.9" fill="#f4693d"/>
<rect x="736.30" y="225.8" width="2.20" height="16.9" fill="#f4693d"/>
<rect x="740.20" y="225.8" width="2.00" height="16.9" fill="#f4693d"/>
<rect x="744.20" y="225.8" width="2.00" height="16.9" fill="#f4693d"/>
<rect x="750.85" y="225.8" width="2.30" height="16.9" fill="#f4693d"/>
<rect x="756.85" y="225.8" width="2.30" height="16.9" fill="#f4693d"/>
<rect x="766.45" y="225.8" width="2.30" height="16.9" fill="#f4693d"/>
<rect x="778.85" y="225.8" width="2.30" height="16.9" fill="#f4693d"/>
<rect x="786.15" y="225.8" width="2.30" height="16.9" fill="#f4693d"/>
<rect x="793.80" y="225.8" width="3.60" height="16.9" fill="#f74e18"/>
<rect x="798.85" y="225.8" width="2.30" height="16.9" fill="#f4693d"/>
<rect x="806.85" y="225.8" width="2.30" height="16.9" fill="#f4693d"/>
<rect x="816.05" y="225.8" width="2.30" height="16.9" fill="#f4693d"/>
<rect x="824.90" y="225.8" width="7.80" height="16.9" fill="#f55a30"/>
<rect x="843.30" y="225.8" width="2.20" height="16.9" fill="#f4693d"/>
<rect x="847.60" y="225.8" width="2.20" height="16.9" fill="#f4693d"/>
<rect x="852.60" y="225.8" width="5.80" height="16.9" fill="#f55a30"/>
<rect x="860.40" y="225.8" width="2.20" height="16.9" fill="#f4693d"/>
<rect x="865.85" y="225.8" width="2.30" height="16.9" fill="#f4693d"/>
<rect x="871.60" y="225.8" width="3.20" height="16.9" fill="#f74e18"/>
<rect x="877.40" y="225.8" width="2.80" height="16.9" fill="#f74e18"/>
<rect x="882.05" y="225.8" width="5.90" height="16.9" fill="#f55a30"/>
<rect x="889.65" y="225.8" width="2.30" height="16.9" fill="#f4693d"/>
<rect x="897.20" y="225.8" width="2.20" height="16.9" fill="#f4693d"/>
<rect x="901.40" y="225.8" width="2.20" height="16.9" fill="#f4693d"/>
<rect x="911.30" y="225.8" width="2.20" height="16.9" fill="#f4693d"/>
<rect x="915.30" y="225.8" width="2.20" height="16.9" fill="#f4693d"/>
<rect x="921.10" y="225.8" width="2.20" height="16.9" fill="#f4693d"/>
<rect x="925.35" y="225.8" width="2.30" height="16.9" fill="#f4693d"/>
<rect x="933.60" y="225.8" width="2.20" height="16.9" fill="#f4693d"/>
<rect x="937.50" y="225.8" width="2.80" height="16.9" fill="#f74e18"/>
<rect x="942.10" y="225.8" width="3.20" height="16.9" fill="#f74e18"/>
<rect x="953.00" y="225.8" width="7.00" height="16.9" fill="#f55a30"/>
<rect x="974.85" y="225.8" width="2.30" height="16.9" fill="#f4693d"/>
<rect x="978.85" y="225.8" width="2.30" height="16.9" fill="#f4693d"/>
<rect x="985.25" y="225.8" width="2.30" height="16.9" fill="#f4693d"/>
<rect x="992.70" y="225.8" width="2.60" height="16.9" fill="#f4693d"/>
<rect x="1014.85" y="225.8" width="2.30" height="16.9" fill="#f4693d"/>
<rect x="1019.35" y="225.8" width="2.30" height="16.9" fill="#f4693d"/>
<rect x="1022.90" y="225.8" width="2.20" height="16.9" fill="#f4693d"/>
<rect x="1032.10" y="225.8" width="2.40" height="16.9" fill="#f4693d"/>
<rect x="1052.45" y="225.8" width="2.30" height="16.9" fill="#f4693d"/>
<rect x="1065.30" y="225.8" width="3.20" height="16.9" fill="#f74e18"/>
<rect x="1072.45" y="225.8" width="2.30" height="16.9" fill="#f4693d"/>
<rect x="1076.45" y="225.8" width="2.30" height="16.9" fill="#f4693d"/>
<rect x="1080.60" y="225.8" width="3.60" height="16.9" fill="#f74e18"/>
<rect x="1100.10" y="225.8" width="2.40" height="16.9" fill="#f4693d"/>
<rect x="1138.80" y="225.8" width="2.20" height="16.9" fill="#f4693d"/>
<rect x="1142.50" y="225.8" width="2.20" height="16.9" fill="#f4693d"/>
<rect x="1146.20" y="225.8" width="2.20" height="16.9" fill="#f4693d"/>
<rect x="1156.55" y="225.8" width="2.90" height="16.9" fill="#f74e18"/>
<rect x="1161.65" y="225.8" width="2.30" height="16.9" fill="#f4693d"/>
<rect x="1167.60" y="225.8" width="3.40" height="16.9" fill="#f74e18"/>
<rect x="1179.90" y="225.8" width="3.20" height="16.9" fill="#f74e18"/>
<rect x="1203.60" y="225.8" width="6.40" height="16.9" fill="#f55a30"/>
<rect x="1211.25" y="225.8" width="2.30" height="16.9" fill="#f4693d"/>
<rect x="1218.55" y="225.8" width="2.90" height="16.9" fill="#f74e18"/>
<rect x="1223.75" y="225.8" width="2.30" height="16.9" fill="#f4693d"/>
<rect x="1238.70" y="225.8" width="2.60" height="16.9" fill="#f4693d"/>
</g>
<rect x="142" y="243.3" width="1103.2" height="57.5" fill="#f5e8e6"/>
<text x="171.5" y="262.8" font-family='"Liberation Serif", serif' font-size="20" fill="#111" stroke="#111" stroke-width="0.25" textLength="123" lengthAdjust="spacingAndGlyphs">Input Sequence</text>
<rect x="150" y="269.4" width="178" height="11.2" fill="#fe0000"/>
<text x="381" y="268" font-family='"Liberation Serif", serif' font-size="20" fill="#111" stroke="#111" stroke-width="0.25" textLength="146" lengthAdjust="spacingAndGlyphs">Sequence Mapped</text>
<rect x="365.2" y="276.3" width="188.2" height="1.5" fill="#222"/>
<text x="586.3" y="258.2" font-family='"Liberation Serif", serif' font-size="20" fill="#111" stroke="#111" stroke-width="0.25" textLength="90" lengthAdjust="spacingAndGlyphs">CpG Island</text>
<rect x="579.3" y="264" width="112.5" height="31" fill="#bce9f9"/>
</g>
<text x="1.2" y="52" font-family='"Liberation Sans", sans-serif' font-size="72" fill="#1f1a17">A</text>
<text x="0.7" y="365.1" font-family='"Liberation Sans", sans-serif' font-size="72" fill="#1f1a17">B</text>
<defs><g id="row"><rect x="343.8" y="-0.78" width="902.4" height="1.56" fill="#6e6e6e"/>
<g fill="#fff" stroke="#585858" stroke-width="1.65">
<circle cx="364.3" cy="0" r="6.5"/>
<circle cx="391.0" cy="0" r="6.5"/>
<circle cx="418.9" cy="0" r="6.5"/>
<circle cx="467.6" cy="0" r="6.5"/>
<circle cx="499.3" cy="0" r="6.5"/>
<circle cx="546.2" cy="0" r="6.5"/>
<circle cx="576.1" cy="0" r="6.5"/>
<circle cx="612.3" cy="0" r="6.5"/>
<circle cx="650.4" cy="0" r="6.5"/>
<circle cx="673.4" cy="0" r="6.5"/>
<circle cx="698.2" cy="0" r="6.5"/>
<circle cx="729.0" cy="0" r="6.5"/>
<circle cx="750.5" cy="0" r="6.5"/>
<circle cx="786.6" cy="0" r="6.5"/>
<circle cx="807.2" cy="0" r="6.5"/>
<circle cx="834.5" cy="0" r="6.5"/>
<circle cx="848.7" cy="0" r="6.5"/>
<circle cx="895.7" cy="0" r="6.5"/>
<circle cx="915.7" cy="0" r="6.5"/>
<circle cx="943.2" cy="0" r="6.5"/>
<circle cx="964.9" cy="0" r="6.5"/>
<circle cx="986.1" cy="0" r="6.5"/>
<circle cx="1019.0" cy="0" r="6.5"/>
<circle cx="1045.5" cy="0" r="6.5"/>
<circle cx="1074.5" cy="0" r="6.5"/>
<circle cx="1094.5" cy="0" r="6.5"/>
<circle cx="1123.6" cy="0" r="6.5"/>
<circle cx="1141.3" cy="0" r="6.5"/>
<circle cx="1165.6" cy="0" r="6.5"/>
<circle cx="1187.8" cy="0" r="6.5"/>
<circle cx="1210.2" cy="0" r="6.5"/>
<circle cx="1230.3" cy="0" r="6.5"/>
</g></g></defs>
<g id="panelB">
<use href="#row" y="403.7"/>
<use href="#row" y="425.9"/>
<use href="#row" y="446.2"/>
<use href="#row" y="468.4"/>
<circle cx="986.1" cy="468.4" r="6.35" fill="#222" stroke="#141414" stroke-width="1"/>
<use href="#row" y="490.8"/>
<circle cx="729.0" cy="490.8" r="6.35" fill="#222" stroke="#141414" stroke-width="1"/>
<use href="#row" y="513.4"/>
<circle cx="467.6" cy="513.4" r="6.35" fill="#222" stroke="#141414" stroke-width="1"/>
<circle cx="1165.6" cy="513.4" r="6.35" fill="#222" stroke="#141414" stroke-width="1"/>
<use href="#row" y="533.3"/>
<circle cx="915.7" cy="533.3" r="6.35" fill="#222" stroke="#141414" stroke-width="1"/>
<circle cx="1123.6" cy="533.3" r="6.35" fill="#222" stroke="#141414" stroke-width="1"/>
<use href="#row" y="555.8"/>
<circle cx="848.7" cy="555.8" r="6.35" fill="#222" stroke="#141414" stroke-width="1"/>
<circle cx="895.7" cy="555.8" r="6.35" fill="#222" stroke="#141414" stroke-width="1"/>
<circle cx="1045.5" cy="555.8" r="6.35" fill="#222" stroke="#141414" stroke-width="1"/>
<use href="#row" y="617.3"/>
<use href="#row" y="639.5"/>
<circle cx="364.3" cy="639.5" r="6.35" fill="#222" stroke="#141414" stroke-width="1"/>
<use href="#row" y="659.8"/>
<use href="#row" y="682.0"/>
<use href="#row" y="704.4"/>
<circle cx="750.5" cy="704.4" r="6.35" fill="#222" stroke="#141414" stroke-width="1"/>
<circle cx="1210.2" cy="704.4" r="6.35" fill="#222" stroke="#141414" stroke-width="1"/>
<use href="#row" y="727.0"/>
<circle cx="612.3" cy="727.0" r="6.35" fill="#222" stroke="#141414" stroke-width="1"/>
<circle cx="673.4" cy="727.0" r="6.35" fill="#222" stroke="#141414" stroke-width="1"/>
<circle cx="698.2" cy="727.0" r="6.35" fill="#222" stroke="#141414" stroke-width="1"/>
<use href="#row" y="746.9"/>
<circle cx="499.3" cy="746.9" r="6.35" fill="#222" stroke="#141414" stroke-width="1"/>
<circle cx="834.5" cy="746.9" r="6.35" fill="#222" stroke="#141414" stroke-width="1"/>
<circle cx="915.7" cy="746.9" r="6.35" fill="#222" stroke="#141414" stroke-width="1"/>
<use href="#row" y="769.4"/>
<circle cx="750.5" cy="769.4" r="6.35" fill="#222" stroke="#141414" stroke-width="1"/>
<circle cx="1074.5" cy="769.4" r="6.35" fill="#222" stroke="#141414" stroke-width="1"/>
<circle cx="1187.8" cy="769.4" r="6.35" fill="#222" stroke="#141414" stroke-width="1"/>
<use href="#row" y="840.3"/>
<use href="#row" y="862.5"/>
<circle cx="1165.6" cy="862.5" r="6.35" fill="#222" stroke="#141414" stroke-width="1"/>
<use href="#row" y="882.8"/>
<use href="#row" y="905.0"/>
<circle cx="848.7" cy="905.0" r="6.35" fill="#222" stroke="#141414" stroke-width="1"/>
<circle cx="943.2" cy="905.0" r="6.35" fill="#222" stroke="#141414" stroke-width="1"/>
<use href="#row" y="927.4"/>
<use href="#row" y="950.0"/>
<circle cx="1165.6" cy="950.0" r="6.35" fill="#222" stroke="#141414" stroke-width="1"/>
<use href="#row" y="969.9"/>
<use href="#row" y="992.4"/>
<circle cx="418.9" cy="992.4" r="6.35" fill="#222" stroke="#141414" stroke-width="1"/>
<circle cx="673.4" cy="992.4" r="6.35" fill="#222" stroke="#141414" stroke-width="1"/>
<circle cx="915.7" cy="992.4" r="6.35" fill="#222" stroke="#141414" stroke-width="1"/>
<circle cx="1165.6" cy="992.4" r="6.35" fill="#222" stroke="#141414" stroke-width="1"/>
<use href="#row" y="1056.5"/>
<use href="#row" y="1078.7"/>
<use href="#row" y="1099.0"/>
<circle cx="467.6" cy="1099.0" r="6.35" fill="#222" stroke="#141414" stroke-width="1"/>
<circle cx="1187.8" cy="1099.0" r="6.35" fill="#222" stroke="#141414" stroke-width="1"/>
<use href="#row" y="1121.2"/>
<use href="#row" y="1143.6"/>
<circle cx="1165.6" cy="1143.6" r="6.35" fill="#222" stroke="#141414" stroke-width="1"/>
<use href="#row" y="1166.2"/>
<circle cx="1045.5" cy="1166.2" r="6.35" fill="#222" stroke="#141414" stroke-width="1"/>
<use href="#row" y="1186.1"/>
<use href="#row" y="1208.6"/>
<circle cx="786.6" cy="1208.6" r="6.35" fill="#222" stroke="#141414" stroke-width="1"/>
<circle cx="964.9" cy="1208.6" r="6.35" fill="#222" stroke="#141414" stroke-width="1"/>
<circle cx="1165.6" cy="1208.6" r="6.35" fill="#222" stroke="#141414" stroke-width="1"/>
<use href="#row" y="1274.3"/>
<use href="#row" y="1296.5"/>
<use href="#row" y="1316.8"/>
<use href="#row" y="1339.0"/>
<use href="#row" y="1361.4"/>
<circle cx="943.2" cy="1361.4" r="6.35" fill="#222" stroke="#141414" stroke-width="1"/>
<circle cx="964.9" cy="1361.4" r="6.35" fill="#222" stroke="#141414" stroke-width="1"/>
<use href="#row" y="1384.0"/>
<circle cx="1165.6" cy="1384.0" r="6.35" fill="#222" stroke="#141414" stroke-width="1"/>
<use href="#row" y="1403.9"/>
<circle cx="418.9" cy="1403.9" r="6.35" fill="#222" stroke="#141414" stroke-width="1"/>
<circle cx="698.2" cy="1403.9" r="6.35" fill="#222" stroke="#141414" stroke-width="1"/>
<use href="#row" y="1426.4"/>
<circle cx="467.6" cy="1426.4" r="6.35" fill="#222" stroke="#141414" stroke-width="1"/>
<circle cx="807.2" cy="1426.4" r="6.35" fill="#222" stroke="#141414" stroke-width="1"/>
<circle cx="1094.5" cy="1426.4" r="6.35" fill="#222" stroke="#141414" stroke-width="1"/>
<circle cx="1165.6" cy="1426.4" r="6.35" fill="#222" stroke="#141414" stroke-width="1"/>
<use href="#row" y="1487.1"/>
<circle cx="698.2" cy="1487.1" r="6.35" fill="#222" stroke="#141414" stroke-width="1"/>
<use href="#row" y="1509.3"/>
<circle cx="576.1" cy="1509.3" r="6.35" fill="#222" stroke="#141414" stroke-width="1"/>
<circle cx="1045.5" cy="1509.3" r="6.35" fill="#222" stroke="#141414" stroke-width="1"/>
<use href="#row" y="1529.6"/>
<circle cx="729.0" cy="1529.6" r="6.35" fill="#222" stroke="#141414" stroke-width="1"/>
<use href="#row" y="1551.8"/>
<use href="#row" y="1574.2"/>
<circle cx="467.6" cy="1574.2" r="6.35" fill="#222" stroke="#141414" stroke-width="1"/>
<circle cx="1187.8" cy="1574.2" r="6.35" fill="#222" stroke="#141414" stroke-width="1"/>
<use href="#row" y="1596.8"/>
<circle cx="1019.0" cy="1596.8" r="6.35" fill="#222" stroke="#141414" stroke-width="1"/>
<use href="#row" y="1616.7"/>
<circle cx="1210.2" cy="1616.7" r="6.35" fill="#222" stroke="#141414" stroke-width="1"/>
<circle cx="1230.3" cy="1616.7" r="6.35" fill="#222" stroke="#141414" stroke-width="1"/>
<use href="#row" y="1639.2"/>
<circle cx="915.7" cy="1639.2" r="6.35" fill="#222" stroke="#141414" stroke-width="1"/>
<g font-family='"Liberation Sans", sans-serif' font-weight="bold" font-size="16" fill="#2a2a2a" letter-spacing="0.7" word-spacing="-1.1">
<text x="341.0" y="382.3">Control group case 1</text>
<text x="339.5" y="593.2">Control group case 2</text>
<text x="341.0" y="815.8">Control group case 3</text>
<text x="338.0" y="1033.2">Cirrhosis group case 1</text>
<text x="343.9" y="1252.3">Cirrhosis group case 2</text>
<text x="338.0" y="1465.1">Cirrhosis group case 3</text>
</g>
<g font-family='"Liberation Sans", sans-serif' font-weight="bold" font-size="41" fill="#1f1a17" letter-spacing="2.2" word-spacing="-3.2">
<text class="bl" x="78.2" y="465.5">Control 1</text>
<text class="bl" x="78.6" y="511.8">3.5%</text>
<text class="bl" x="78.2" y="673.8">Control 2</text>
<text class="bl" x="78.6" y="719.8">4.7%</text>
<text class="bl" x="78.2" y="905.5">Control 3</text>
<text class="bl" x="78.6" y="951.8">3.1%</text>
<text class="bl" x="78.2" y="1125.0">Cirrhosis 1</text>
<text class="bl" x="78.6" y="1171.4">2.7%</text>
<text class="bl" x="78.2" y="1336.0">Cirrhosis 2</text>
<text class="bl" x="78.6" y="1382.4">3.5%</text>
<text class="bl" x="78.2" y="1544.3">Cirrhosis 3</text>
<text class="bl" x="78.6" y="1590.9">3.9%</text>
</g>
<g fill="#fff">
<rect x="251.73" y="460.50" width="7.3" height="6.2" />
<rect x="264.68" y="460.50" width="7.6" height="6.2" />
<rect x="119.18" y="946.80" width="7.3" height="6.2" />
<rect x="132.13" y="946.80" width="7.6" height="6.2" />
<rect x="290.37" y="1120.00" width="7.3" height="6.2" />
<rect x="303.32" y="1120.00" width="7.6" height="6.2" />
</g>
</g>
</svg>
</body></html>
